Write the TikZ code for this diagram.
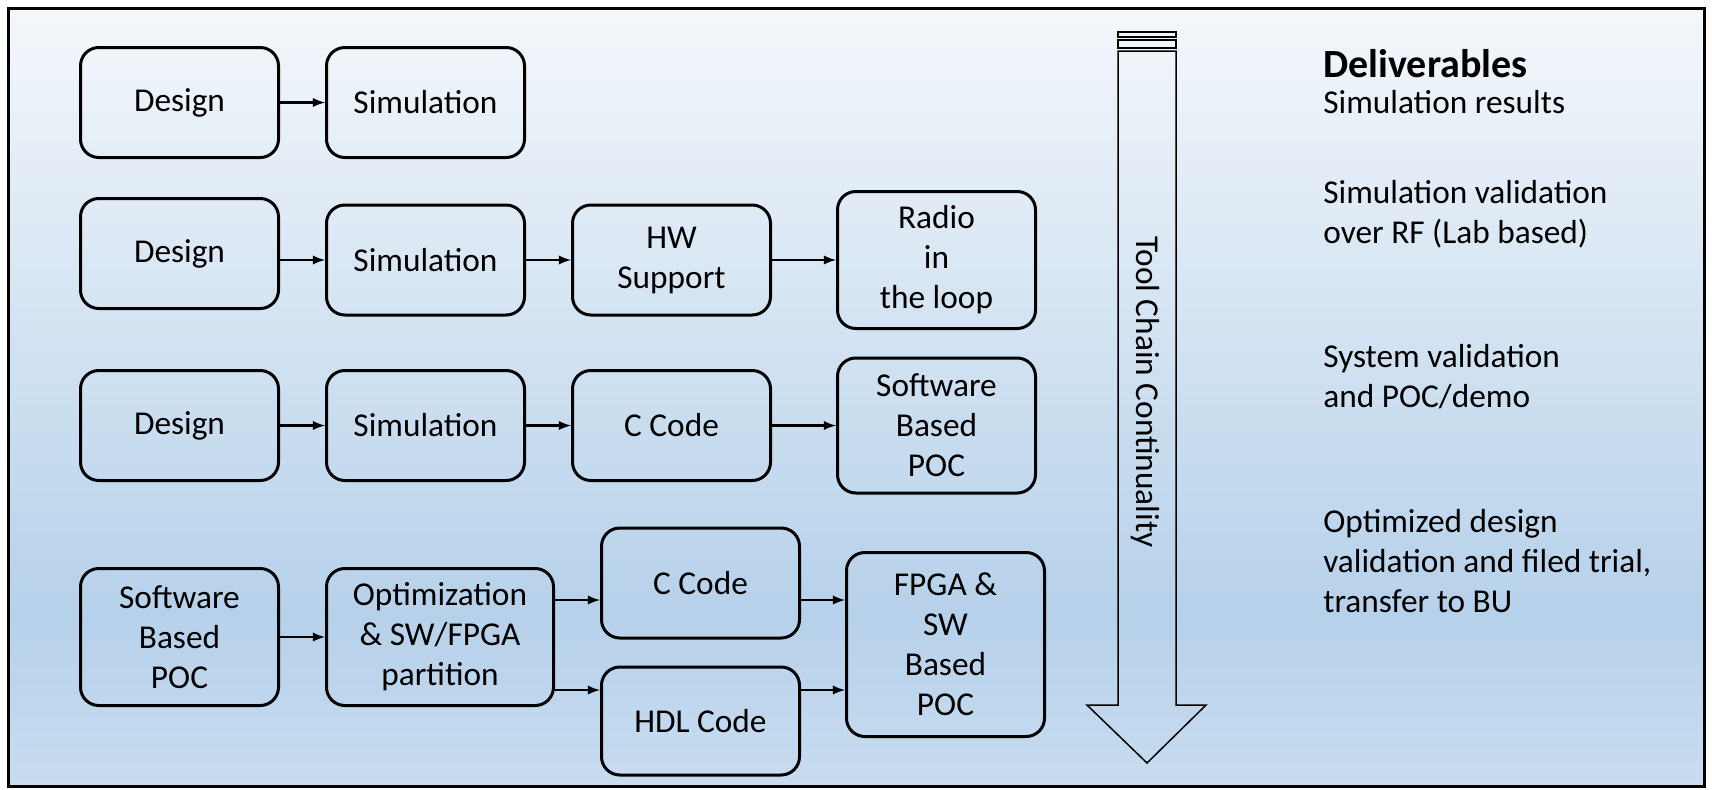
\documentclass[tikz,border=0pt]{standalone}
\usepackage{fontspec}
\setmainfont{Carlito}
\usetikzlibrary{positioning}

\definecolor{bgtop}{HTML}{F4F7FB}
\definecolor{bgmid}{HTML}{B6D1EA}
\definecolor{bgbot}{HTML}{C8DCF0}
\pgfdeclareverticalshading{panelshade}{100bp}{color(0bp)=(bgbot); color(25bp)=(bgbot); color(36bp)=(bgmid); color(75bp)=(bgtop); color(100bp)=(bgtop)}

\newcommand{\boxfont}{\fontsize{20}{24}\selectfont}
\newcommand{\headfont}{\fontsize{24}{28}\selectfont\bfseries}

\begin{document}
\begin{tikzpicture}[
    x = 0.6pt, y = -0.6pt,
    node distance = 22.8pt and 27pt,
    stage/.style = {draw,
                    line width=1.8pt,
                    rounded corners=11pt,
                    minimum width=118.8pt,
                    minimum height=66pt,
                    align=center,
                    inner sep=2pt,
                    font=\boxfont},
    arr/.style   = {line width=1.5pt,
                    -latex},
    note/.style  = {anchor=base west,
                    align=left,
                    inner sep=0pt,
                    font=\boxfont}
]
\useasboundingbox (0,0) rectangle (1712,789);
\fill[white] (0,0) rectangle (1712,789);
\shade[shading=panelshade] (8,8) rectangle (1704,786);
\draw[line width=1.8pt] (8,8) rectangle (1704,786);

\node (d1) [stage] at (179.5,102.5) {Design};
\node (s1) [stage, right=of d1] {Simulation};
\draw[arr] (d1) -- (s1);

\node (d2) [stage, below=of d1] {Design};
\node (s2) [stage, right=of d2, yshift=-3.9pt] {Simulation};
\node (hw) [stage, right=of s2] {HW\\Support};
\node (radio) [stage, right=38.4pt of hw, minimum height=82.2pt] {Radio\\in\\the loop};
\draw[arr] (d2.east |- s2) -- (s2);
\draw[arr] (s2) -- (hw);
\draw[arr] (hw) -- (radio);

\node (d3) [stage, below=35.4pt of d2] {Design};
\node (s3) [stage, right=of d3] {Simulation};
\node (cc3) [stage, right=of s3] {C Code};
\node (swpoc3) [stage, right=38.4pt of cc3, minimum height=81pt] {Software\\Based\\POC};
\draw[arr] (d3) -- (s3);
\draw[arr] (s3) -- (cc3);
\draw[arr] (cc3) -- (swpoc3);

\node (swpoc4) [stage, below=51pt of d3, minimum height=82.2pt] {Software\\Based\\POC};
\node (opt) [stage, right=of swpoc4, minimum width=136.2pt, minimum height=82.2pt] {Optimization\\\& SW/FPGA\\partition};
\node (cc4) [stage, right=of opt, yshift=32.4pt] {C Code};
\node (hdl) [stage, below=15.6pt of cc4, minimum height=64.8pt] {HDL Code};
\node (fpga) [stage, right=26.4pt of cc4, yshift=-36.9pt, minimum height=110.4pt] {FPGA \&\\SW\\Based\\POC};
\coordinate (cin) at ([yshift=-10.2pt]cc4.west);
\coordinate (cout) at ([yshift=-10.2pt]cc4.east);
\coordinate (hin) at ([yshift=18.6pt]hdl.west);
\coordinate (hout) at ([yshift=18.6pt]hdl.east);
\draw[arr] (swpoc4) -- (opt);
\draw[arr] (opt.east |- cin) -- (cin);
\draw[arr] (opt.east |- hin) -- (hin);
\draw[arr] (cout) -- (cout -| fpga.west);
\draw[arr] (hout) -- (hout -| fpga.west);

\draw[line width=0.9pt] (1118,51) -- (1118,705) -- (1087,705) -- (1147,763)
    -- (1206,705) -- (1176,705) -- (1176,51) -- cycle;
\draw[line width=0.9pt] (1118,32) rectangle (1176,37);
\draw[line width=0.9pt] (1118,40) rectangle (1176,48);
\node (chain) [rotate=-90, font=\boxfont] at (1145,392) {Tool Chain Continuality};

\node (dlvhead) [note, font=\headfont] at (1323,77) {Deliverables};
\node (dlv1) [note] at (1323,113) {Simulation results};
\node (dlv2) [note] at (1323,243) {Simulation validation\\over RF (Lab based)};
\node (dlv3) [note] at (1323,407) {System validation\\and POC/demo};
\node (dlv4) [note] at (1323,612) {Optimized design\\validation and filed trial,\\transfer to BU};
\end{tikzpicture}
\end{document}
